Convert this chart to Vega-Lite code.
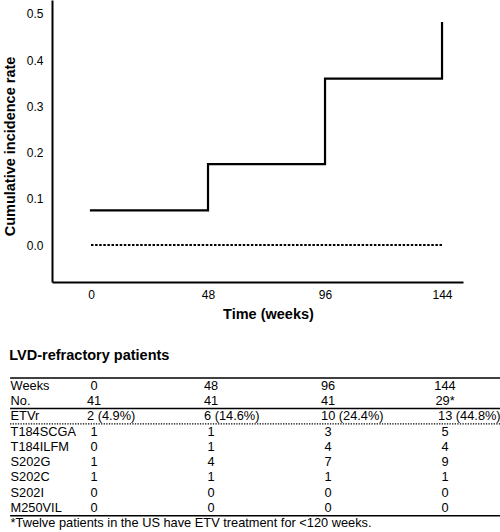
{
  "$schema": "https://vega.github.io/schema/vega-lite/v6.json",
  "padding": {"top": 0, "left": 2, "right": 0, "bottom": 0},
  "background": "white",
  "config": {
    "view": {"stroke": null},
    "font": "Liberation Sans",
    "axis": {"labelColor": "black", "titleColor": "black", "domainColor": "black", "domainWidth": 2, "ticks": false, "grid": false, "labelFont": "Liberation Sans", "titleFont": "Liberation Sans", "labelFontSize": 12, "titleFontSize": 14.5, "titleFontWeight": "bold"},
    "text": {"font": "Liberation Sans", "fontSize": 12.6, "color": "black"},
    "title": {"font": "Liberation Sans", "color": "black"}
  },
  "datasets": {
    "curve": [
      {"week": 0, "rate": 0.075},
      {"week": 48, "rate": 0.175},
      {"week": 96, "rate": 0.36},
      {"week": 144, "rate": 0.48}
    ],
    "baseline": [
      {"week": 0, "rate": 0},
      {"week": 144, "rate": 0}
    ],
    "rows": [
      {"row": "Weeks"}, {"row": "No."}, {"row": "ETVr"}, {"row": "T184SCGA"}, {"row": "T184ILFM"},
      {"row": "S202G"}, {"row": "S202C"}, {"row": "S202I"}, {"row": "M250VIL"},
      {"row": "*Twelve patients in the US have ETV treatment for <120 weeks."}
    ],
    "cells": [
      {"row": "Weeks", "week": 0, "value": "0"}, {"row": "Weeks", "week": 48, "value": "48"}, {"row": "Weeks", "week": 96, "value": "96"}, {"row": "Weeks", "week": 144, "value": "144"},
      {"row": "No.", "week": 0, "value": "41"}, {"row": "No.", "week": 48, "value": "41"}, {"row": "No.", "week": 96, "value": "41"}, {"row": "No.", "week": 144, "value": "29*"},
      {"row": "ETVr", "week": 0, "value": "2 (4.9%)"}, {"row": "ETVr", "week": 48, "value": "6 (14.6%)"}, {"row": "ETVr", "week": 96, "value": "10 (24.4%)"}, {"row": "ETVr", "week": 144, "value": "13 (44.8%)"},
      {"row": "T184SCGA", "week": 0, "value": "1"}, {"row": "T184SCGA", "week": 48, "value": "1"}, {"row": "T184SCGA", "week": 96, "value": "3"}, {"row": "T184SCGA", "week": 144, "value": "5"},
      {"row": "T184ILFM", "week": 0, "value": "0"}, {"row": "T184ILFM", "week": 48, "value": "1"}, {"row": "T184ILFM", "week": 96, "value": "4"}, {"row": "T184ILFM", "week": 144, "value": "4"},
      {"row": "S202G", "week": 0, "value": "1"}, {"row": "S202G", "week": 48, "value": "4"}, {"row": "S202G", "week": 96, "value": "7"}, {"row": "S202G", "week": 144, "value": "9"},
      {"row": "S202C", "week": 0, "value": "1"}, {"row": "S202C", "week": 48, "value": "1"}, {"row": "S202C", "week": 96, "value": "1"}, {"row": "S202C", "week": 144, "value": "1"},
      {"row": "S202I", "week": 0, "value": "0"}, {"row": "S202I", "week": 48, "value": "0"}, {"row": "S202I", "week": 96, "value": "0"}, {"row": "S202I", "week": 144, "value": "0"},
      {"row": "M250VIL", "week": 0, "value": "0"}, {"row": "M250VIL", "week": 48, "value": "0"}, {"row": "M250VIL", "week": 96, "value": "0"}, {"row": "M250VIL", "week": 144, "value": "0"}
    ],
    "topRule": [{"row": "Weeks"}],
    "solidRules": [{"row": "No."}, {"row": "M250VIL"}],
    "dottedRules": [{"row": "ETVr"}]
  },
  "spacing": 26,
  "vconcat": [
    {
      "width": 411,
      "height": 282,
      "layer": [
        {
          "data": {"name": "curve"},
          "mark": {"type": "line", "interpolate": "step-after", "color": "black", "strokeWidth": 2.2, "strokeCap": "square"},
          "encoding": {
            "x": {"field": "week", "type": "quantitative", "scale": {"domain": [-16, 152.6], "nice": false, "zero": false},
                  "axis": {"title": "Time (weeks)", "values": [0, 48, 96, 144], "labelFontSize": 12, "labelPadding": 7, "titlePadding": 7, "titleFontSize": 14.5, "titleX": 216}},
            "y": {"field": "rate", "type": "quantitative", "scale": {"domain": [-0.08, 0.53], "nice": false, "zero": false},
                  "axis": {"title": "Cumulative incidence rate", "values": [0, 0.1, 0.2, 0.3, 0.4, 0.5], "format": ".1f", "labelFontSize": 12, "labelPadding": 9, "titlePadding": 9, "titleFontSize": 14.5, "titleY": 146}}
          }
        },
        {
          "data": {"name": "baseline"},
          "mark": {"type": "line", "color": "black", "strokeWidth": 2, "strokeDash": [2.5, 1.6]},
          "encoding": {
            "x": {"field": "week", "type": "quantitative"},
            "y": {"field": "rate", "type": "quantitative"}
          }
        }
      ]
    },
    {
      "width": 411,
      "height": 153,
      "title": {"text": "LVD-refractory patients", "anchor": "start", "frame": "bounds", "fontSize": 14.5, "fontWeight": "bold", "offset": 14},
      "layer": [
        {
          "data": {"name": "rows"},
          "mark": {"type": "text", "align": "left", "baseline": "middle", "fontSize": 12.8},
          "encoding": {
            "x": {"datum": -33, "type": "quantitative", "scale": {"domain": [-16, 152.6], "nice": false, "zero": false}, "axis": null},
            "y": {"field": "row", "type": "nominal", "bandPosition": 0.5, "scale": {"type": "band", "paddingInner": 0, "paddingOuter": 0, "domain": ["Weeks", "No.", "ETVr", "T184SCGA", "T184ILFM", "S202G", "S202C", "S202I", "M250VIL", "*Twelve patients in the US have ETV treatment for <120 weeks."]}, "axis": null},
            "text": {"field": "row"}
          }
        },
        {
          "data": {"name": "cells"},
          "transform": [{"filter": "datum.row !== 'ETVr'"}],
          "mark": {"type": "text", "align": "center", "baseline": "middle", "dx": 3, "fontSize": 12.8},
          "encoding": {
            "x": {"field": "week", "type": "quantitative"},
            "y": {"field": "row", "type": "nominal", "bandPosition": 0.5},
            "text": {"field": "value"}
          }
        },
        {
          "data": {"name": "cells"},
          "transform": [{"filter": "datum.row === 'ETVr'"}],
          "mark": {"type": "text", "align": "left", "baseline": "middle", "dx": -4, "fontSize": 12.8},
          "encoding": {
            "x": {"field": "week", "type": "quantitative"},
            "y": {"field": "row", "type": "nominal", "bandPosition": 0.5},
            "text": {"field": "value"}
          }
        },
        {
          "data": {"name": "topRule"},
          "mark": {"type": "rule", "color": "black", "strokeWidth": 1.5},
          "encoding": {
            "x": {"datum": -33.2, "type": "quantitative"},
            "x2": {"datum": 168},
            "y": {"field": "row", "type": "nominal", "bandPosition": 0}
          }
        },
        {
          "data": {"name": "solidRules"},
          "mark": {"type": "rule", "color": "black", "strokeWidth": 1.5},
          "encoding": {
            "x": {"datum": -33.2, "type": "quantitative"},
            "x2": {"datum": 168},
            "y": {"field": "row", "type": "nominal", "bandPosition": 1}
          }
        },
        {
          "data": {"name": "dottedRules"},
          "mark": {"type": "rule", "color": "black", "strokeWidth": 1.2, "strokeDash": [1.3, 1.3]},
          "encoding": {
            "x": {"datum": -33.2, "type": "quantitative"},
            "x2": {"datum": 168},
            "y": {"field": "row", "type": "nominal", "bandPosition": 1}
          }
        }
      ]
    }
  ]
}
